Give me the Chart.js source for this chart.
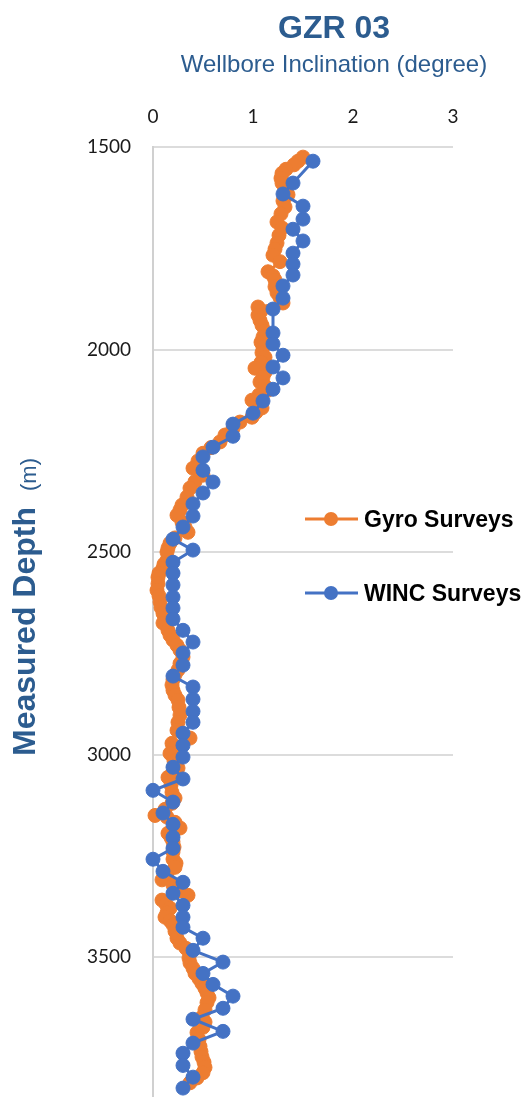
<!DOCTYPE html>
<html lang="en">
<head>
    <meta charset="UTF-8">
    <title>GZR 03 - Wellbore Inclination</title>
    <script src="https://cdn.jsdelivr.net/npm/chart.js"></script>
    <style>
        body {
            margin: 0;
            background-color: #ffffff;
        }
        #wrap {
            width: 522px;
            height: 1097px;
            position: relative;
        }
    </style>
</head>
<body>
    <div id="wrap">
        <canvas id="incChart"></canvas>
    </div>

    <script>
        // Textos
        const chartTitle = 'GZR 03';
        const chartSubtitle = 'Wellbore Inclination (degree)';
        const yTitleMain = 'Measured Depth';
        const yTitleUnit = '(m)';
        const xTicks = [0, 1, 2, 3];
        const yTicks = [1500, 2000, 2500, 3000, 3500];

        // Gyro Surveys (profundidad m, inclinación grados)
        const gyroDepth = [1525, 1535, 1544, 1555, 1565, 1577, 1589, 1603, 1618, 1633, 1648, 1665, 1685, 1700, 1718, 1737, 1752, 1767, 1783, 1808,
            1818, 1828, 1845, 1860, 1872, 1885, 1895, 1905, 1915, 1928, 1940, 1955, 1969, 1982, 1995, 2008, 2019, 2032, 2046, 2056,
            2068, 2080, 2090, 2100, 2112, 2125, 2144, 2155, 2167, 2179, 2195, 2211, 2228, 2242, 2256, 2275, 2293, 2310, 2326, 2342,
            2364, 2384, 2396, 2409, 2426, 2438, 2451, 2465, 2478, 2490, 2500, 2520, 2530, 2540, 2552, 2562, 2578, 2594, 2608, 2623,
            2637, 2651, 2663, 2675, 2693, 2705, 2717, 2730, 2742, 2759, 2775, 2791, 2803, 2815, 2828, 2841, 2853, 2865, 2883, 2902,
            2920, 2940, 2959, 2972, 2985, 2997, 3015, 3033, 3045, 3056, 3075, 3093, 3107, 3120, 3135, 3150, 3154, 3167, 3181, 3194,
            3205, 3215, 3228, 3240, 3258, 3268, 3278, 3294, 3309, 3322, 3335, 3347, 3359, 3369, 3379, 3390, 3401, 3410, 3420, 3436,
            3453, 3465, 3478, 3490, 3502, 3514, 3527, 3540, 3553, 3565, 3577, 3588, 3600, 3612, 3630, 3648, 3660, 3673, 3686, 3703,
            3720, 3733, 3746, 3759, 3772, 3785, 3798, 3810];
        const gyroIncl = [1.50, 1.45, 1.41, 1.33, 1.29, 1.28, 1.29, 1.32, 1.35, 1.30, 1.32, 1.28, 1.24, 1.29, 1.26, 1.24, 1.22, 1.20, 1.27, 1.15,
            1.20, 1.22, 1.22, 1.24, 1.27, 1.30, 1.05, 1.08, 1.05, 1.07, 1.09, 1.12, 1.10, 1.08, 1.10, 1.09, 1.12, 1.08, 1.02, 1.12,
            1.10, 1.07, 1.12, 1.15, 1.06, 0.99, 1.09, 1.03, 0.99, 0.87, 0.80, 0.72, 0.67, 0.58, 0.50, 0.45, 0.40, 0.50, 0.42, 0.37,
            0.34, 0.29, 0.27, 0.24, 0.29, 0.32, 0.35, 0.22, 0.17, 0.15, 0.14, 0.14, 0.11, 0.10, 0.06, 0.05, 0.05, 0.04, 0.06, 0.07,
            0.08, 0.10, 0.12, 0.10, 0.15, 0.17, 0.20, 0.24, 0.27, 0.30, 0.27, 0.25, 0.22, 0.20, 0.19, 0.20, 0.22, 0.25, 0.26, 0.27,
            0.25, 0.24, 0.37, 0.19, 0.20, 0.17, 0.21, 0.25, 0.20, 0.15, 0.18, 0.19, 0.22, 0.19, 0.12, 0.02, 0.14, 0.22, 0.27, 0.15,
            0.18, 0.20, 0.21, 0.20, 0.20, 0.23, 0.22, 0.14, 0.09, 0.20, 0.27, 0.35, 0.09, 0.13, 0.17, 0.14, 0.12, 0.17, 0.20, 0.22,
            0.24, 0.27, 0.33, 0.37, 0.36, 0.37, 0.40, 0.42, 0.46, 0.49, 0.52, 0.54, 0.56, 0.54, 0.52, 0.49, 0.52, 0.50, 0.44, 0.46,
            0.47, 0.48, 0.49, 0.51, 0.52, 0.50, 0.44, 0.37];

        // WINC Surveys
        const wincDepth = [1535, 1589, 1616, 1646, 1678, 1703, 1732, 1762, 1789, 1816, 1843, 1873, 1900, 1959, 1986, 2014, 2043, 2070, 2098, 2127,
            2157, 2184, 2214, 2241, 2265, 2298, 2327, 2354, 2381, 2411, 2438, 2468, 2495, 2525, 2552, 2581, 2611, 2638, 2665, 2693,
            2722, 2749, 2779, 2806, 2833, 2863, 2893, 2920, 2947, 2977, 3006, 3031, 3060, 3088, 3117, 3144, 3172, 3204, 3231, 3258,
            3288, 3315, 3342, 3372, 3401, 3426, 3453, 3483, 3512, 3540, 3567, 3596, 3626, 3653, 3683, 3712, 3737, 3767, 3796, 3823];
        const wincIncl = [1.6, 1.4, 1.3, 1.5, 1.5, 1.4, 1.5, 1.4, 1.4, 1.4, 1.3, 1.3, 1.2, 1.2, 1.2, 1.3, 1.2, 1.3, 1.2, 1.1,
            1.0, 0.8, 0.8, 0.6, 0.5, 0.5, 0.6, 0.5, 0.4, 0.4, 0.3, 0.2, 0.4, 0.2, 0.2, 0.2, 0.2, 0.2, 0.2, 0.3,
            0.4, 0.3, 0.3, 0.2, 0.4, 0.4, 0.4, 0.4, 0.3, 0.3, 0.3, 0.2, 0.3, 0.0, 0.2, 0.1, 0.2, 0.2, 0.2, 0.0,
            0.1, 0.3, 0.2, 0.3, 0.3, 0.3, 0.5, 0.4, 0.7, 0.5, 0.6, 0.8, 0.7, 0.4, 0.7, 0.4, 0.3, 0.3, 0.4, 0.3];

        const orange = '#ED7D31';
        const blue = '#4472C4';
        const titleBlue = '#2C5C8F';

        const toPoints = (depths, incl) => depths.map((d, i) => ({ x: incl[i], y: d }));

        // Titulo, titulo del eje Y y leyenda dibujados a mano
        const textPlugin = {
            id: 'textPlugin',
            afterDraw(chart) {
                const ctx = chart.ctx;
                ctx.save();
                ctx.fillStyle = titleBlue;
                ctx.textAlign = 'center';
                ctx.textBaseline = 'alphabetic';
                ctx.font = 'bold 32px "Liberation Sans", Arial, sans-serif';
                ctx.fillText(chartTitle, 334, 38);
                ctx.font = '24px "Liberation Sans", Arial, sans-serif';
                ctx.fillText(chartSubtitle, 334, 72);

                // titulo eje Y (rotado)
                ctx.save();
                ctx.translate(35, 607);
                ctx.rotate(-Math.PI / 2);
                ctx.textAlign = 'left';
                const mainFont = 'bold 32px "Liberation Sans", Arial, sans-serif';
                const unitFont = '22px "Liberation Sans", Arial, sans-serif';
                ctx.font = mainFont;
                const w1 = ctx.measureText(yTitleMain).width;
                ctx.font = unitFont;
                const w2 = ctx.measureText(yTitleUnit).width;
                const gap = 16;
                const start = -(w1 + gap + w2) / 2;
                ctx.font = mainFont;
                ctx.fillText(yTitleMain, start, 0);
                ctx.font = unitFont;
                ctx.fillText(yTitleUnit, start + w1 + gap, 1);
                ctx.restore();

                // leyenda
                chart.data.datasets.forEach((ds, i) => {
                    const yy = 519 + i * 74;
                    ctx.strokeStyle = ds.borderColor;
                    ctx.lineWidth = 3;
                    ctx.beginPath();
                    ctx.moveTo(305, yy);
                    ctx.lineTo(358, yy);
                    ctx.stroke();
                    ctx.fillStyle = ds.borderColor;
                    ctx.beginPath();
                    ctx.arc(331, yy, 7, 0, Math.PI * 2);
                    ctx.fill();
                    ctx.fillStyle = '#000000';
                    ctx.textAlign = 'left';
                    ctx.font = 'bold 23px "Liberation Sans", Arial, sans-serif';
                    ctx.fillText(ds.label, 364, yy + 8);
                });
                ctx.restore();
            }
        };

        const tickFont = { family: 'Lato', size: 19 };

        new Chart(document.getElementById('incChart'), {
            type: 'scatter',
            data: {
                datasets: [
                    {
                        label: 'Gyro Surveys',
                        data: toPoints(gyroDepth, gyroIncl),
                        showLine: true,
                        borderColor: orange,
                        backgroundColor: orange,
                        borderWidth: 3,
                        pointRadius: 7,
                        pointBorderWidth: 1,
                        order: 2,
                        clip: false
                    },
                    {
                        label: 'WINC Surveys',
                        data: toPoints(wincDepth, wincIncl),
                        showLine: true,
                        borderColor: blue,
                        backgroundColor: blue,
                        borderWidth: 3,
                        pointRadius: 7,
                        pointBorderWidth: 1,
                        order: 1,
                        clip: false
                    }
                ]
            },
            options: {
                responsive: true,
                maintainAspectRatio: false,
                animation: false,
                layout: {
                    autoPadding: false,
                    padding: { left: 86, right: 69, top: 100, bottom: 0 }
                },
                plugins: {
                    legend: { display: false },
                    tooltip: { enabled: false }
                },
                scales: {
                    x: {
                        type: 'linear',
                        position: 'top',
                        min: xTicks[0],
                        max: xTicks[xTicks.length - 1],
                        ticks: { stepSize: 1, padding: 19, font: tickFont, color: '#1a1a1a', callback: v => String(v) },
                        grid: { display: false, drawTicks: false },
                        border: { display: false },
                        afterFit: s => { s.height = 47; }
                    },
                    y: {
                        type: 'linear',
                        reverse: true,
                        min: yTicks[0],
                        max: 3845,
                        afterBuildTicks: s => {
                            s.ticks = yTicks.map(v => ({ value: v }));
                        },
                        ticks: { padding: 22, font: tickFont, color: '#1a1a1a', callback: v => String(v) },
                        grid: { color: '#dcdcdc', lineWidth: 2, drawTicks: false },
                        border: { color: '#d0d0d0', width: 2 },
                        afterFit: s => {
                            s.width = 67;
                            s.paddingTop = 0;
                            s.paddingBottom = 0;
                        }
                    }
                }
            },
            plugins: [textPlugin]
        });
    </script>
</body>
</html>
